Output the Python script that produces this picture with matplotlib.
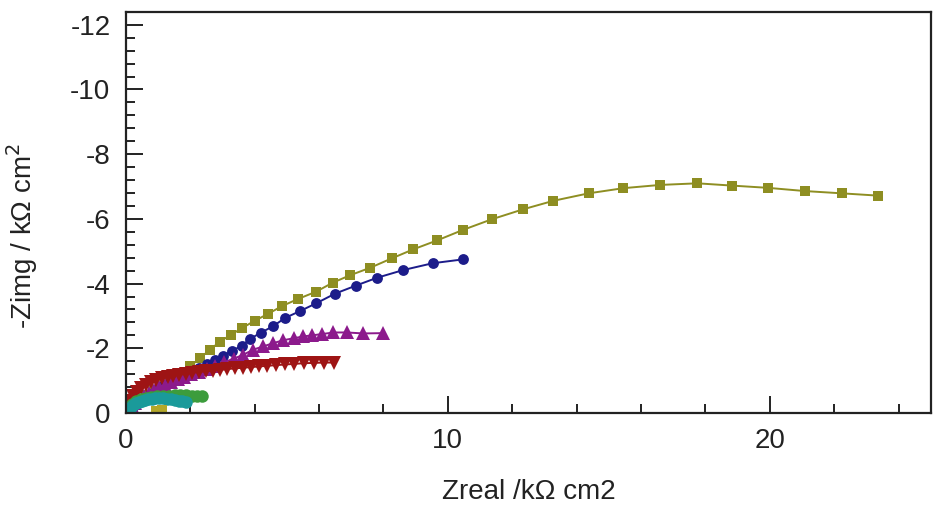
import matplotlib
matplotlib.use("Agg")
import matplotlib.pyplot as plt
from matplotlib.ticker import MultipleLocator, FixedLocator

plt.rcParams['font.family'] = ['Liberation Sans', 'DejaVu Sans']
plt.rcParams['axes.unicode_minus'] = False

# ---- data (kOhm cm2) ----
sq_x = [0.05, 0.2, 0.4, 0.62, 0.85, 1.1, 1.38, 1.68, 2.0, 2.31, 2.62, 2.93, 3.27, 3.62,
        4.0, 4.43, 4.84, 5.36, 5.91, 6.43, 6.97, 7.59, 8.26, 8.93, 9.68, 10.47, 11.37,
        12.35, 13.28, 14.37, 15.45, 16.59, 17.75, 18.82, 19.94, 21.10, 22.24, 23.35]
sq_y = [-0.05, -0.2, -0.38, -0.55, -0.72, -0.88, -1.05, -1.24, -1.44, -1.70, -1.96, -2.21,
        -2.42, -2.63, -2.85, -3.07, -3.30, -3.53, -3.75, -4.03, -4.26, -4.49, -4.78, -5.06,
        -5.34, -5.66, -5.99, -6.30, -6.56, -6.79, -6.95, -7.05, -7.10, -7.03, -6.96, -6.86,
        -6.79, -6.72]

ci_x = [0.08, 0.22, 0.38, 0.56, 0.75, 0.95, 1.16, 1.38, 1.6, 1.82, 2.05, 2.28, 2.52, 2.76,
        3.02, 3.30, 3.60, 3.86, 4.19, 4.57, 4.95, 5.41, 5.91, 6.50, 7.15, 7.80, 8.62, 9.53,
        10.48]
ci_y = [-0.08, -0.2, -0.33, -0.47, -0.6, -0.72, -0.84, -0.95, -1.06, -1.16, -1.27, -1.38,
        -1.50, -1.63, -1.77, -1.92, -2.08, -2.29, -2.48, -2.68, -2.94, -3.15, -3.39, -3.69,
        -3.94, -4.18, -4.42, -4.63, -4.75]

tu_x = [0.09, 0.19, 0.3, 0.42, 0.56, 0.71, 0.87, 1.04, 1.22, 1.41, 1.61, 1.82, 2.04, 2.27,
        2.52, 2.78, 3.06, 3.35, 3.65, 3.96, 4.27, 4.58, 4.89, 5.21, 5.52, 5.78, 6.09, 6.45,
        6.86, 7.38, 8.0]
tu_y = [-0.12, -0.22, -0.32, -0.42, -0.52, -0.62, -0.71, -0.8, -0.88, -0.96, -1.04, -1.12,
        -1.20, -1.28, -1.37, -1.46, -1.57, -1.68, -1.80, -1.96, -2.06, -2.16, -2.25, -2.31,
        -2.37, -2.40, -2.44, -2.49, -2.49, -2.46, -2.47]

td_x = [0.03, 0.08, 0.15, 0.24, 0.35, 0.48, 0.62, 0.78, 0.95, 1.12, 1.3, 1.48, 1.67, 1.86,
        2.06, 2.27, 2.48, 2.7, 2.93, 3.16, 3.4, 3.64, 3.89, 4.14, 4.4, 4.67, 4.95, 5.24,
        5.54, 5.85, 6.15, 6.47]
td_y = [-0.12, -0.25, -0.38, -0.52, -0.65, -0.77, -0.87, -0.95, -1.02, -1.07, -1.11, -1.15,
        -1.18, -1.21, -1.24, -1.27, -1.29, -1.31, -1.33, -1.36, -1.38, -1.40, -1.42, -1.44,
        -1.46, -1.48, -1.50, -1.52, -1.54, -1.55, -1.56, -1.56]

gr_x = [0.03, 0.1, 0.2, 0.32, 0.46, 0.62, 0.8, 0.98, 1.16, 1.34, 1.52, 1.7, 1.88, 2.05,
        2.22, 2.38]
gr_y = [-0.05, -0.15, -0.27, -0.37, -0.44, -0.48, -0.5, -0.52, -0.53, -0.54, -0.55, -0.55,
        -0.55, -0.54, -0.53, -0.52]

te_x = [0.02, 0.06, 0.11, 0.17, 0.24, 0.32, 0.41, 0.5, 0.6, 0.7, 0.81, 0.92, 1.04, 1.16,
        1.28, 1.4, 1.52, 1.64, 1.76, 1.88]
te_y = [-0.03, -0.08, -0.14, -0.2, -0.26, -0.31, -0.35, -0.38, -0.41, -0.43, -0.44, -0.45,
        -0.45, -0.45, -0.44, -0.42, -0.40, -0.38, -0.36, -0.34]

ol_x = [0.95, 1.13]
ol_y = [-0.07, -0.1]

x_major = [0, 10, 20]
y_major = [0, -2, -4, -6, -8, -10, -12]

# ---- figure ----
fig = plt.figure(figsize=(9.48, 5.15), dpi=100)
ax = fig.add_axes([0.1326, 0.198, 0.8494, 0.779])

series = [
    (sq_x, sq_y, 's', '#8e8e22', 7.4),
    (ci_x, ci_y, 'o', '#1c1c8a', 7.8),
    (tu_x, tu_y, '^', '#8c1a8c', 9.5),
    (td_x, td_y, 'v', '#9e1414', 9.5),
    (gr_x, gr_y, 'o', '#3c9c3c', 9.0),
    (te_x, te_y, 'o', '#1a9a9a', 9.0),
    (ol_x, ol_y, 's', '#b4a82a', 7.4),
]
for xs, ys, m, c, ms in series:
    ax.plot(xs, ys, '-', color=c, lw=1.4, marker=m, markersize=ms,
            markeredgewidth=0, markerfacecolor=c)

ax.set_xlim(0, 25)
ax.set_ylim(0, -12.4)

ax.xaxis.set_major_locator(FixedLocator(x_major))
ax.xaxis.set_minor_locator(MultipleLocator(2))
ax.yaxis.set_major_locator(FixedLocator(y_major))
ax.yaxis.set_minor_locator(MultipleLocator(0.4))
ax.set_xticklabels([str(v) for v in x_major])
ax.set_yticklabels([str(v) for v in y_major])

ax.tick_params(which='both', direction='in', color='#222222', width=1.4,
               labelsize=20, labelcolor='#222222')
ax.tick_params(which='major', length=12, pad=11)
ax.tick_params(which='minor', length=6.5)

for s in ax.spines.values():
    s.set_linewidth(1.6)
    s.set_color('#222222')

ax.set_xlabel('Zreal /k\u03a9 cm2', fontsize=20, color='#222222')
ax.set_ylabel('-Zimg / k\u03a9 cm$^2$', fontsize=20, color='#222222')
ax.xaxis.set_label_coords(0.5, -0.165)
ax.yaxis.set_label_coords(-0.106, 0.441)

fig.savefig('out.png', dpi=100)
